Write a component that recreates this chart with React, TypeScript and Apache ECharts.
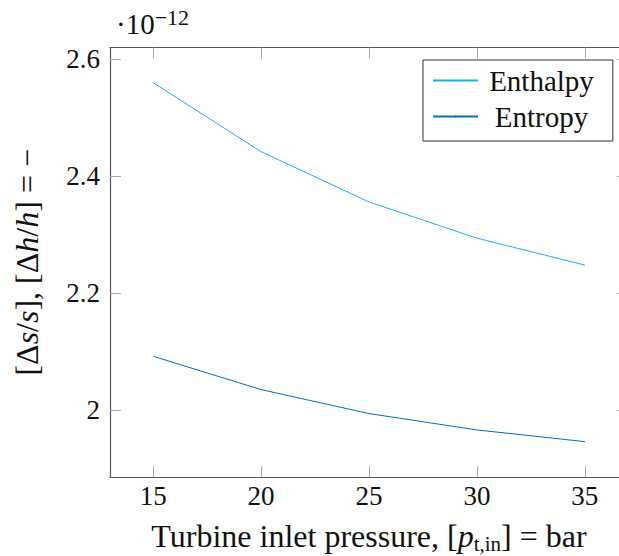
import React, { useEffect, useRef } from "react";
import * as echarts from "echarts";

const pressures = [15, 20, 25, 30, 35];
const enthalpy = [2.56, 2.442, 2.356, 2.294, 2.248];
const entropy = [2.092, 2.035, 1.994, 1.966, 1.946];
const xTicks = [15, 20, 25, 30, 35];
const yTicks = [2, 2.2, 2.4, 2.6];
const seriesNames = ["Enthalpy", "Entropy"];

const FONT = "Liberation Serif";

export default function App() {
  const ref = useRef<HTMLDivElement>(null);
  useEffect(() => {
    if (!ref.current) return;
    const chart = echarts.init(ref.current, null, { renderer: "svg" });
    const axisLine = { show: true, lineStyle: { color: "#555", width: 1.2 } };
    const tick = (vals: number[]) => ({
      show: true,
      inside: true,
      length: 11,
      customValues: vals,
      lineStyle: { color: "#aaa", width: 1 },
    });
    chart.setOption({
      animation: false,
      backgroundColor: "#fff",
      grid: { left: 110, top: 47.6, width: 518, height: 429.4, containLabel: false, outerBoundsMode: "none" },
      legend: {
        left: 423,
        top: 60,
        orient: "vertical",
        data: seriesNames,
        borderColor: "#333",
        borderWidth: 1,
        padding: [6, 19, 10, 9],
        itemGap: 7,
        itemWidth: 45,
        itemHeight: 2,
        formatter: (n: string) => `{c|${n}}`,
        textStyle: {
          fontFamily: FONT,
          fontSize: 29,
          color: "#111",
          rich: { c: { width: 117, align: "center", fontFamily: FONT, fontSize: 29, color: "#111" } },
        },
      },
      xAxis: [
        {
          type: "value",
          min: 13,
          max: 37,
          axisLine,
          axisTick: tick(xTicks),
          splitLine: { show: false },
          axisLabel: {
            customValues: xTicks,
            fontFamily: FONT,
            fontSize: 27,
            color: "#111",
            margin: 5,
          },
          name: "Turbine inlet pressure, [{i|p}{s|t,in}] = bar",
          nameLocation: "middle",
          nameGap: 41,
          nameMoveOverlap: false,
          nameTextStyle: {
            fontFamily: FONT,
            fontSize: 32,
            color: "#111",
            rich: {
              i: { fontFamily: FONT, fontSize: 32, fontStyle: "italic", color: "#111" },
              s: { fontFamily: FONT, fontSize: 21, color: "#111", padding: [15, 0, 0, 0] },
            },
          },
        },
        {
          type: "value",
          position: "top",
          min: 13,
          max: 37,
          axisLine,
          axisTick: tick(xTicks),
          axisLabel: { show: false },
          splitLine: { show: false },
        },
      ],
      yAxis: [
        {
          type: "value",
          min: 1.8855,
          max: 2.62,
          axisLine,
          axisTick: tick(yTicks),
          splitLine: { show: false },
          axisLabel: {
            customValues: yTicks,
            fontFamily: FONT,
            fontSize: 27,
            color: "#111",
            margin: 10,
          },
          name: "[Δ{i|s}/{i|s}], [Δ{i|h}/{i|h}] = −",
          nameLocation: "middle",
          nameRotate: 90,
          nameGap: 67,
          nameMoveOverlap: false,
          nameTextStyle: {
            fontFamily: FONT,
            fontSize: 32,
            color: "#111",
            rich: {
              i: { fontFamily: FONT, fontSize: 32, fontStyle: "italic", color: "#111" },
            },
          },
        },
        {
          type: "value",
          position: "right",
          min: 1.8855,
          max: 2.62,
          axisLine,
          axisTick: tick(yTicks),
          axisLabel: { show: false },
          splitLine: { show: false },
        },
      ],
      graphic: [
        {
          type: "text",
          left: 116,
          top: 6,
          style: {
            text: "·10{s|−12}",
            fontFamily: FONT,
            fontSize: 29,
            fill: "#111",
            rich: { s: { fontFamily: FONT, fontSize: 22, padding: [0, 0, 14, 0], fill: "#111" } },
          },
        },
      ],
      series: [
        {
          name: seriesNames[0],
          type: "line",
          data: pressures.map((p, i) => [p, enthalpy[i]]),
          symbol: "none",
          lineStyle: { color: "#1cb0e3", width: 1 },
          itemStyle: { color: "#1cb0e3" },
        },
        {
          name: seriesNames[1],
          type: "line",
          data: pressures.map((p, i) => [p, entropy[i]]),
          symbol: "none",
          lineStyle: { color: "#0a6fae", width: 1 },
          itemStyle: { color: "#0a6fae" },
        },
      ],
    });
    return () => chart.dispose();
  }, []);
  return (
    <div
      ref={ref}
      style={{ position: "fixed", left: 0, top: 0, width: 619, height: 556, overflow: "hidden" }}
    />
  );
}
